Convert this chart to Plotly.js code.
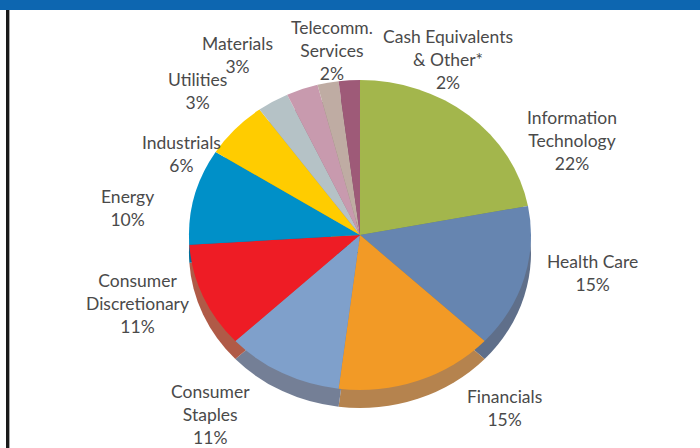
<!DOCTYPE html>
<html><head><meta charset="utf-8">
<script src="https://cdn.plot.ly/plotly-3.0.1.min.js"></script>
<style>html,body{margin:0;padding:0;background:#fff}#c{width:700px;height:448px}</style>
</head><body><div id="c"></div>
<script>
const sectors = ["Information Technology","Health Care","Financials","Consumer Staples","Consumer Discretionary","Energy","Industrials","Utilities","Materials","Telecomm. Services","Cash Equivalents & Other*"];
const weights = [22,15,15,11,11,10,6,3,3,2,2];
const topColors = ["#A3B64C","#6685B0","#F29A26","#7FA0CB","#EE1C25","#0090C8","#FFCC00","#B5C2C6","#C89AAE","#BFACA3","#9E5A78"];
const wallColors = ["#7F8E3C","#5F6F8A","#B5834E","#747F96","#B05A47","#006F9A","#C49D00","#8C9699","#9A7786","#938479","#7A4560"];
const labelLines = [
 ["Information","Technology","22%"],["Health Care","15%"],["Financials","15%"],
 ["Consumer","Staples","11%"],["Consumer","Discretionary","11%"],["Energy","10%"],
 ["Industrials","6%"],["Utilities","3%"],["Materials","3%"],["Telecomm.","Services","2%"],
 ["Cash Equivalents","& Other*","2%"]];
const labelCentres = [[572,140],[592,273],[504,408],[210,414],[137,303],[127,208],[181,154],[197,91],[237,55],[332,50],[448,59]];
const W=700,H=448,cx=360,cy=235,rx=171,ry=155,depth=18;
const labelFont={family:'Lato, "Noto Sans", sans-serif',size:17.5,color:'#4a4a4a'};
const dom=(x,y)=>({x:[(x-rx)/W,(x+rx)/W],y:[1-(y+rx)/H,1-(y-rx)/H]});
const pie=(colors,y)=>({type:'pie',labels:sectors,values:weights,sort:false,direction:'clockwise',rotation:0,
 textinfo:'none',hoverinfo:'label+percent',showlegend:false,domain:dom(cx,y),
 marker:{colors:colors,line:{width:0}}});
const layout={width:W,height:H,margin:{l:0,r:0,t:0,b:0},paper_bgcolor:'#fff',showlegend:false,
 font:labelFont,
 shapes:[
  {type:'rect',xref:'paper',yref:'paper',x0:0,x1:1,y0:1-10/H,y1:1,fillcolor:'#0D66B0',line:{width:0}},
  {type:'rect',xref:'paper',yref:'paper',x0:6/W,x1:9/W,y0:0,y1:1-10/H,fillcolor:'#1a1a1a',line:{width:0}},
  {type:'rect',xref:'paper',yref:'paper',x0:9/W,x1:10/W,y0:0,y1:1-10/H,fillcolor:'#aaaaaa',line:{width:0}}
 ],
 annotations:labelLines.map((l,i)=>({xref:'paper',yref:'paper',x:labelCentres[i][0]/W,y:1-labelCentres[i][1]/H,
  text:l.join('<br>'),showarrow:false,align:'center',xanchor:'center',yanchor:'middle',font:labelFont}))
};
function squash(){
 const k=ry/rx;
 document.querySelectorAll('#c .pielayer .trace').forEach((t,i)=>{
  const y=i===0?cy+depth:cy;
  t.setAttribute('transform',`translate(0 ${y*(1-k)}) scale(1 ${k})`);
 });
}
const gd=document.getElementById('c');
Plotly.newPlot(gd,[pie(wallColors,cy+depth),pie(topColors,cy)],layout,{displayModeBar:false,staticPlot:true}).then(squash);
</script></body></html>
